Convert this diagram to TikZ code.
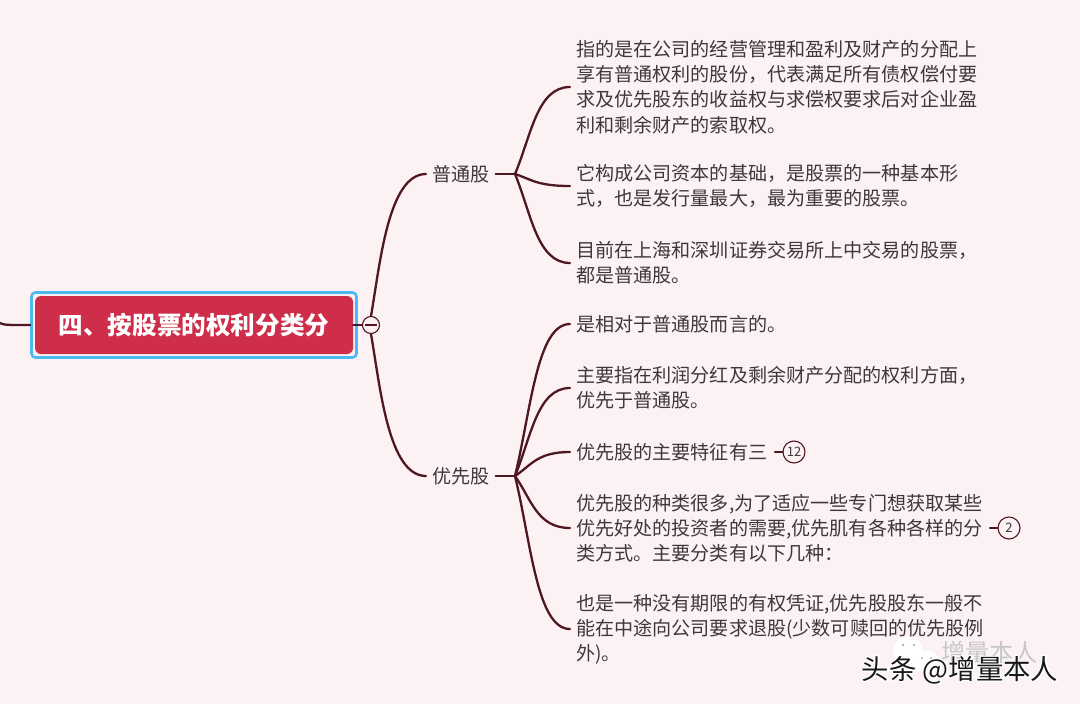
\documentclass[tikz,border=0pt]{standalone}
\usepackage{fontspec}
\setmainfont{Noto Sans CJK SC}
\usetikzlibrary{calc}
\definecolor{pagebg}{HTML}{FCF2F4}
\definecolor{branchcol}{HTML}{4F1626}
\definecolor{textcol}{HTML}{40373B}
\definecolor{rootred}{HTML}{CE2E4A}
\definecolor{selblue}{HTML}{4DB9F2}
\tikzset{
  branch/.style={draw=branchcol,line width=2.3pt,line cap=round},
  leaf/.style={align=left,anchor=west,inner xsep=6pt,inner ysep=0pt,text=textcol,font=\fontsize{19.1}{25.2}\selectfont},
  badge/.style={circle,draw=branchcol,line width=1.1pt,minimum size=22pt,inner sep=0pt,text=textcol,font=\fontsize{13}{13}\selectfont},
  rootbox/.style={fill=rootred,rounded corners=6pt,minimum width=318pt,minimum height=58pt,text=white,font=\fontsize{24.6}{30}\selectfont\bfseries},
  selbox/.style={draw=selblue,line width=2.6pt,rounded corners=4pt,minimum width=325pt,minimum height=65pt},
  markfont/.style={font=\fontsize{27.4}{30}\selectfont}
}
\newcommand{\halotext}[1]{\special{pdf:code q 1 Tr 2.4 w 1 1 1 RG}#1\special{pdf:code Q}}
\begin{document}
\begin{tikzpicture}[x=1pt,y=-1pt]
\useasboundingbox[fill=pagebg] (0,0) rectangle (1080,704);

\node[selbox] (sel) at (194,325) {};
\node[rootbox] (root) at (194,325) {四、按股票的权利分类分};
\node[circle,draw=branchcol,fill=pagebg,line width=1.1pt,minimum size=17pt,inner sep=0pt] (fold) at (371,325) {};
\draw[branchcol,line width=1.1pt] ($(fold.west)+(3,0)$) -- ($(fold.east)+(-3,0)$);
\coordinate (stub) at (0,323);

\node[leaf] (pu) at (426,174) {普通股};
\node[leaf] (you) at (426,476) {优先股};
\coordinate (puj) at (515,174);
\coordinate (youj) at (515,476);

\node[leaf] (pua) at (570,87) {指的是在公司的经营管理和盈利及财产的分配上\\享有普通权利的股份，代表满足所有债权偿付要\\求及优先股东的收益权与求偿权要求后对企业盈\\利和剩余财产的索取权。};
\node[leaf] (pub) at (570,186) {它构成公司资本的基础，是股票的一种基本形\\式，也是发行量最大，最为重要的股票。};
\node[leaf] (puc) at (570,263) {目前在上海和深圳证券交易所上中交易的股票，\\都是普通股。};

\node[leaf] (youa) at (570,324) {是相对于普通股而言的。};
\node[leaf] (youb) at (570,388) {主要指在利润分红及剩余财产分配的权利方面，\\优先于普通股。};
\node[leaf] (youc) at (570,452) {优先股的主要特征有三};
\node[leaf] (youd) at (570,528) {优先股的种类很多,为了适应一些专门想获取某些\\优先好处的投资者的需要,优先肌有各种各样的分\\类方式。主要分类有以下几种：};
\node[leaf] (youe) at (570,629) {也是一种没有期限的有权凭证,优先股股东一般不\\能在中途向公司要求退股(少数可赎回的优先股例\\外)。};

\node[badge] (cnta) at (794,452) {12};
\node[badge] (cntb) at (1009,528) {2};

\draw[branch] (stub) .. controls (4,325) and (6,325) .. (sel.west);
\draw[branch] (root.east) -- (fold.west);
\draw[branch] (fold.north) .. controls (380,265) and (388,174) .. (pu.west);
\draw[branch] (fold.south) .. controls (380,385) and (388,476) .. (you.west);
\draw[branch] (pu.east) -- (puj);
\draw[branch] (you.east) -- (youj);

\foreach \item in {pua,pub,puc}
  \draw[branch] (puj) .. controls ($(puj)!0.44!(\item.west)+(-8,0)$) and ($(\item.west)+(-33,0)$) .. (\item.west);
\foreach \item in {youa,youb,youc,youd,youe}
  \draw[branch] (youj) .. controls ($(youj)!0.44!(\item.west)+(-8,0)$) and ($(\item.west)+(-33,0)$) .. (\item.west);

\coordinate (cntaj) at (775,452);
\coordinate (cntbj) at (990,528);
\draw[branch] (cntaj) -- (cnta.west);
\draw[branch] (cntbj) -- (cntb.west);

% watermark
\fill[white] (908,650) ellipse (15pt and 13pt);
\fill[white] (926,662) ellipse (13pt and 11pt);
\fill[black!30] (903,645) circle (1.3pt) (914,645) circle (1.3pt) (922,658) circle (1.1pt) (931,658) circle (1.1pt);
\node[text=black!22,font=\fontsize{24}{26}\selectfont,inner sep=0pt] (markback) at (989,652) {增量本人};
\node[markfont,inner sep=0pt] (markhalo) at (960,670) {\halotext{头条 @增量本人}};
\node[text=black!90,markfont,inner sep=0pt] (mark) at (960,670) {头条 @增量本人};
\end{tikzpicture}
\end{document}
